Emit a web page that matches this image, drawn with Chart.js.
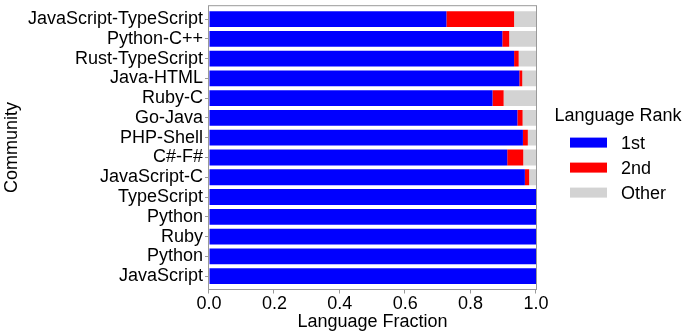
<!DOCTYPE html>
<html>
<head>
<meta charset="utf-8">
<script src="https://cdn.jsdelivr.net/npm/chart.js@4/dist/chart.umd.min.js"></script>
<style>
  html, body { margin: 0; padding: 0; background: #fff; }
  #wrap { width: 685px; height: 336px; }
</style>
</head>
<body>
<div id="wrap"><canvas id="chart" width="685" height="336"></canvas></div>
<script>
// communities, top to bottom
const communities = [
  "JavaScript-TypeScript", "Python-C++", "Rust-TypeScript", "Java-HTML",
  "Ruby-C", "Go-Java", "PHP-Shell", "C#-F#", "JavaScript-C",
  "TypeScript", "Python", "Ruby", "Python", "JavaScript"
];

// fraction of the top language
const firstRank = [0.726, 0.897, 0.933, 0.949, 0.867, 0.943, 0.960, 0.912, 0.966, 1, 1, 1, 1, 1];
// fraction of the second language
const secondRank = [0.207, 0.021, 0.014, 0.009, 0.034, 0.016, 0.015, 0.049, 0.013, 0, 0, 0, 0, 0];
// what is left over
const otherRank = [0.067, 0.082, 0.053, 0.042, 0.099, 0.041, 0.025, 0.039, 0.021, 0, 0, 0, 0, 0];

const xTicks = [0, 0.2, 0.4, 0.6, 0.8, 1.0];

const FONT = "'Liberation Sans', Arial, Helvetica, sans-serif";
const FS = 18;
const SPINE = "#999";
Chart.defaults.font.family = FONT;
Chart.defaults.color = "#000";

// box round the plot (a little margin above and below the bars, like matplotlib)
// plus the x tick marks hanging off the bottom of it
const frame = {
  id: "frame",
  afterDatasetsDraw(chart) {
    const a = chart.chartArea, ctx = chart.ctx;
    const top = a.top - 3, bottom = a.bottom + 3;
    ctx.save();
    ctx.strokeStyle = SPINE;
    ctx.lineWidth = 1;
    ctx.strokeRect(a.left - 0.5, top - 0.5, a.right - a.left + 1, bottom - top + 1);
    const xs = chart.scales.x;
    ctx.beginPath();
    xTicks.forEach(v => {
      const px = Math.round(xs.getPixelForValue(v)) - 0.5;
      ctx.moveTo(px, bottom + 0.5);
      ctx.lineTo(px, bottom + 4.5);
    });
    ctx.stroke();
    ctx.restore();
  }
};

// legend on the right, title wider than the items;
// built from the datasets, space kept by layout.padding.right
const sideLegend = {
  id: "sideLegend",
  afterDraw(chart) {
    const ctx = chart.ctx, a = chart.chartArea;
    const x0 = a.right + 34, mid = (a.top + a.bottom) / 2;
    ctx.save();
    ctx.font = FS + "px " + FONT;
    ctx.fillStyle = "#000";
    ctx.textBaseline = "middle";
    ctx.textAlign = "center";
    ctx.fillText("Language Rank", x0 + 48, mid - 32);
    ctx.textAlign = "left";
    chart.data.datasets.forEach((ds, i) => {
      const y = mid - 5 + i * 25;
      ctx.fillStyle = ds.backgroundColor;
      ctx.fillRect(x0, y - 5, 37, 10);
      ctx.fillStyle = "#000";
      ctx.fillText(ds.label, x0 + 51, y + 1);
    });
    ctx.restore();
  }
};

new Chart(document.getElementById("chart"), {
  type: "bar",
  data: {
    labels: communities,
    datasets: [
      { label: "1st", data: firstRank, backgroundColor: "#0000ff" },
      { label: "2nd", data: secondRank, backgroundColor: "#ff0000" },
      { label: "Other", data: otherRank, backgroundColor: "#d3d3d3" }
    ]
  },
  options: {
    indexAxis: "y",
    responsive: false,
    animation: false,
    layout: { padding: { top: 8, right: 149, bottom: 3, left: 0 } },
    datasets: { bar: { barPercentage: 0.8, categoryPercentage: 1 } },
    scales: {
      x: {
        stacked: true,
        min: 0,
        max: 1,
        afterBuildTicks(axis) { axis.ticks = xTicks.map(v => ({ value: v })); },
        afterFit(axis) { axis.height = 47; },
        ticks: {
          font: { size: FS, lineHeight: 1 },
          padding: 9.5,
          maxRotation: 0,
          callback: v => Number(v).toFixed(1)
        },
        grid: { display: true, drawOnChartArea: false, drawTicks: false },
        border: { display: false },
        title: { display: true, text: "Language Fraction", font: { size: FS }, padding: { top: 0, bottom: 0 } }
      },
      y: {
        stacked: true,
        afterFit(axis) { axis.width = 209; },
        ticks: { font: { size: FS, lineHeight: 0.8 }, padding: 2, autoSkip: false },
        grid: { offset: false, drawOnChartArea: false, drawTicks: true, tickLength: 4, color: SPINE },
        border: { display: false },
        title: { display: true, text: "Community", font: { size: FS }, padding: { top: 1, bottom: 0 } }
      }
    },
    plugins: {
      tooltip: { enabled: false },
      legend: { display: false }
    }
  },
  plugins: [frame, sideLegend]
});
</script>
</body>
</html>
